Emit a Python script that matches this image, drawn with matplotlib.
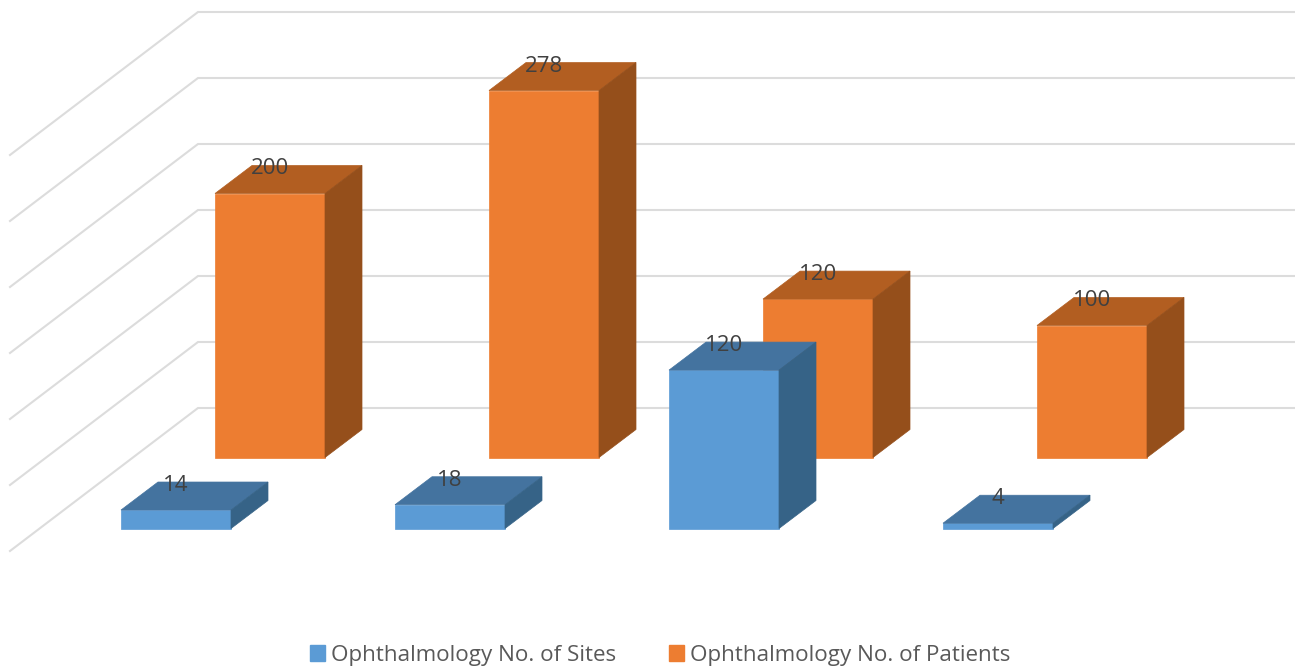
import matplotlib
matplotlib.use('Agg')
import matplotlib.pyplot as plt
from matplotlib.patches import Polygon, Patch

sites = [14, 18, 120, 4]
patients = [200, 278, 120, 100]
grid_values = [0, 50, 100, 150, 200, 250, 300]
series_names = ['Ophthalmology No. of Sites', 'Ophthalmology No. of Patients']

W, H = 1295, 668
PX_X = 274.0    # pixels per category
PX_Y = 1.32     # pixels per value unit
BASE_PX = 528.5   # floor of the front row

bar_w = 110 / PX_X
depth_x = 37 / PX_X
depth_y = 28 / PX_Y
row_x = 94 / PX_X    # back row is shifted from the front row
row_y = 71 / PX_Y
wall_y = (BASE_PX - 408) / PX_Y
side_x = 188 / PX_X
side_y = 143 / PX_Y

blue = ('#5B9BD5', '#44739F', '#366387')
orange = ('#ED7D31', '#B25E21', '#954F1B')


def draw_bar(ax, x, base, value, colors, z):
    front, top, side = colors
    x1 = x + bar_w
    y1 = base + value
    ax.add_patch(Polygon([(x, base), (x1, base), (x1, y1), (x, y1)], fc=front, ec=front, lw=0.5, zorder=z))
    ax.add_patch(Polygon([(x, y1), (x1, y1), (x1 + depth_x, y1 + depth_y), (x + depth_x, y1 + depth_y)],
                         fc=top, ec=top, lw=0.5, zorder=z))
    ax.add_patch(Polygon([(x1, base), (x1 + depth_x, base + depth_y), (x1 + depth_x, y1 + depth_y), (x1, y1)],
                         fc=side, ec=side, lw=0.5, zorder=z))
    ax.text(x + bar_w / 2, y1 + depth_y - 3.5 / PX_Y, str(value), ha='center', va='center',
            fontsize=16, color='#404040', zorder=10)


plt.rcParams['font.family'] = ['Open Sans', 'DejaVu Sans']
fig = plt.figure(figsize=(W / 100, H / 100), dpi=100)
ax = fig.add_axes([0, 0, 1, 1])
ax.set_xlim(-121 / PX_X, (W - 121) / PX_X)
ax.set_ylim(-(H - BASE_PX) / PX_Y, BASE_PX / PX_Y)
ax.axis('off')

# back wall and side wall lines
wall_left = (198 - 121) / PX_X
for g in grid_values:
    y = g + wall_y
    ax.plot([wall_left - side_x, wall_left, (W - 121) / PX_X], [y - side_y, y, y],
            color='#DCDCDC', lw=1.5, zorder=1, solid_joinstyle='miter')

for i in range(len(patients)):
    draw_bar(ax, i + row_x, row_y, patients[i], orange, 2 + i)
for i in range(len(sites)):
    draw_bar(ax, i, 0, sites[i], blue, 6 + i)

handles = [Patch(fc=blue[0], ec=blue[0]), Patch(fc=orange[0], ec=orange[0])]
ax.legend(handles, series_names, loc='lower center', bbox_to_anchor=(0.5097, -0.027), ncol=2, frameon=False,
          fontsize=16.1, labelcolor='#595959', handlelength=0.68, handleheight=0.68,
          handletextpad=0.25, columnspacing=2.35)

fig.savefig('out.png', dpi=100)
